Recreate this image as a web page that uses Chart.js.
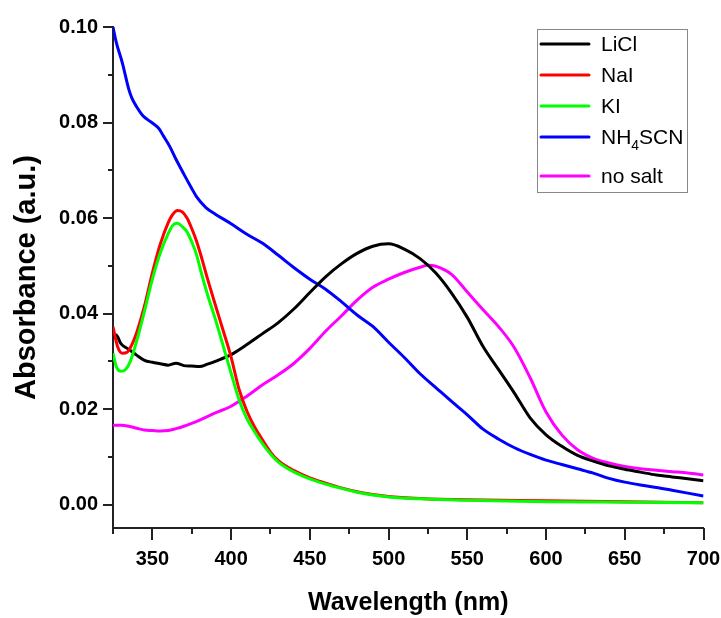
<!DOCTYPE html>
<html>
<head>
<meta charset="utf-8">
<script src="https://cdn.jsdelivr.net/npm/chart.js@4.4.1/dist/chart.umd.min.js"></script>
<style>
  html, body { margin: 0; padding: 0; background: #fff; }
</style>
</head>
<body>
<canvas id="MiGrafica" width="721" height="618"></canvas>
<script>
// Datos
const seriesNames = ["LiCl", "NaI", "KI", "NH4SCN", "no salt"];
const seriesColors = ["#000000", "#ff0000", "#00ff00", "#0000ff", "#ff00ff"];

const liclWl = [325,327,330,335,340,345,350,355,360,365,370,375,380,385,390,400,410,420,430,440,450,460,470,480,490,500,510,520,530,540,550,560,570,580,590,600,610,620,630,640,650,660,670,680,690,700];
const liclAbs = [0.0350,0.0355,0.0337,0.0325,0.0313,0.0302,0.0298,0.0295,0.0292,0.0296,0.0291,0.0290,0.0289,0.0294,0.0300,0.0314,0.0335,0.0358,0.0381,0.0410,0.0444,0.0477,0.0504,0.0526,0.0541,0.0546,0.0535,0.0515,0.0485,0.0443,0.0392,0.0331,0.0282,0.0233,0.0181,0.0146,0.0122,0.0103,0.0091,0.0081,0.0074,0.0068,0.0062,0.0058,0.0054,0.0050];

const naiWl = [325,328,331,334,337,340,345,350,355,360,363,366,369,372,375,378,381,385,390,395,400,405,410,415,420,425,430,440,450,460,470,480,490,500,520,550,600,650,700];
const naiAbs = [0.0372,0.0330,0.0317,0.0319,0.0335,0.0360,0.0416,0.0485,0.0545,0.0590,0.0608,0.0616,0.0613,0.0600,0.0578,0.0552,0.0520,0.0473,0.0418,0.0364,0.0309,0.0242,0.0196,0.0162,0.0135,0.0110,0.0092,0.0071,0.0056,0.0045,0.0035,0.0027,0.0021,0.0017,0.0013,0.0010,0.0008,0.0006,0.0004];

const kiWl = [325,327,330,333,336,340,345,350,355,360,363,366,369,372,375,378,381,385,390,395,400,405,410,415,420,425,430,440,450,460,470,480,490,500,520,550,600,650,700];
const kiAbs = [0.0317,0.0290,0.0279,0.0283,0.0300,0.0342,0.0405,0.0472,0.0527,0.0567,0.0585,0.0589,0.0582,0.0571,0.0550,0.0524,0.0486,0.0440,0.0388,0.0332,0.0275,0.0220,0.0180,0.0152,0.0127,0.0106,0.0089,0.0068,0.0054,0.0043,0.0034,0.0026,0.0020,0.0016,0.0012,0.0009,0.0006,0.0005,0.0004];

const scnWl = [325,327,331,335,337,340,344,347,350,354,357,361,365,370,375,378,384,390,400,410,420,430,440,450,460,470,480,490,500,510,520,530,540,550,560,570,580,590,600,610,620,630,640,650,660,670,680,690,700];
const scnAbs = [0.1000,0.0969,0.0924,0.0870,0.0851,0.0833,0.0814,0.0806,0.0799,0.0788,0.0772,0.0750,0.0723,0.0692,0.0662,0.0645,0.0622,0.0608,0.0588,0.0566,0.0547,0.0522,0.0496,0.0472,0.0451,0.0425,0.0397,0.0373,0.0340,0.0308,0.0274,0.0245,0.0216,0.0188,0.0158,0.0137,0.0119,0.0105,0.0093,0.0084,0.0075,0.0066,0.0055,0.0047,0.0041,0.0036,0.0030,0.0024,0.0018];

const noSaltWl = [325,330,335,340,345,350,355,360,365,370,380,390,400,410,420,430,440,450,460,470,480,490,500,510,520,525,530,540,550,560,570,580,590,600,610,620,630,640,650,660,670,680,690,700];
const noSaltAbs = [0.0166,0.0166,0.0164,0.0160,0.0156,0.0155,0.0154,0.0155,0.0159,0.0164,0.0177,0.0192,0.0206,0.0227,0.0251,0.0272,0.0296,0.0327,0.0363,0.0395,0.0428,0.0455,0.0472,0.0486,0.0497,0.0501,0.0499,0.0482,0.0445,0.0408,0.0372,0.0328,0.0265,0.0194,0.0146,0.0115,0.0097,0.0087,0.0080,0.0075,0.0072,0.0069,0.0066,0.0062];

const xTicks = [350, 400, 450, 500, 550, 600, 650, 700];
const xMinorTicks = [325, 375, 425, 475, 525, 575, 625, 675];
const yTicks = [0.00, 0.02, 0.04, 0.06, 0.08, 0.10];
const yMinorTicks = [0.01, 0.03, 0.05, 0.07, 0.09];

const allWl = [liclWl, naiWl, kiWl, scnWl, noSaltWl];
const allAbs = [liclAbs, naiAbs, kiAbs, scnAbs, noSaltAbs];
const drawOrder = [3, 2, 1, 4, 5];

const FONT = "'Liberation Sans', Arial, sans-serif";
const AXIS_COLOR = "#222";

// Marcas mayores y menores hacia fuera
const tickMarks = {
  id: 'tickMarks',
  afterDraw(chart) {
    const ctx = chart.ctx;
    const xs = chart.scales.x, ys = chart.scales.y;
    ctx.save();
    ctx.strokeStyle = AXIS_COLOR;
    ctx.lineWidth = 2;
    const xAxisY = chart.chartArea.bottom;
    const yAxisX = chart.chartArea.left;
    const xt = (v, len) => {
      const px = Math.round(xs.getPixelForValue(v));
      ctx.beginPath(); ctx.moveTo(px, xAxisY); ctx.lineTo(px, xAxisY + len); ctx.stroke();
    };
    const yt = (v, len) => {
      const py = Math.round(ys.getPixelForValue(v));
      ctx.beginPath(); ctx.moveTo(yAxisX, py); ctx.lineTo(yAxisX - len, py); ctx.stroke();
    };
    xTicks.forEach(v => xt(v, 12));
    xMinorTicks.forEach(v => xt(v, 6));
    yTicks.forEach(v => yt(v, 10));
    yMinorTicks.forEach(v => yt(v, 5));
    ctx.restore();
  }
};

// Leyenda con subindices
const boxLegend = {
  id: 'boxLegend',
  afterDraw(chart) {
    const ctx = chart.ctx;
    ctx.save();
    ctx.strokeStyle = "#888";
    ctx.lineWidth = 1;
    ctx.strokeRect(537.5, 29.5, 150, 163);
    let y = 44;
    seriesNames.forEach((name, i) => {
      ctx.strokeStyle = seriesColors[i];
      ctx.lineWidth = 3;
      ctx.lineCap = 'round';
      ctx.beginPath(); ctx.moveTo(541, y); ctx.lineTo(589, y); ctx.stroke();
      ctx.fillStyle = "#000";
      ctx.textBaseline = 'middle';
      let x = 601;
      const parts = name.match(/\d+|\D+/g);
      let hasSub = false;
      parts.forEach(p => {
        if (/^\d+$/.test(p)) {
          hasSub = true;
          ctx.font = "14px " + FONT;
          ctx.fillText(p, x, y + 9);
          x += ctx.measureText(p).width;
        } else {
          ctx.font = "21px " + FONT;
          ctx.fillText(p, x, y + 1);
          x += ctx.measureText(p).width;
        }
      });
      y += hasSub ? 39 : 31;
    });
    ctx.restore();
  }
};

const miCanvas = document.getElementById("MiGrafica").getContext("2d");

const chart = new Chart(miCanvas, {
  type: "line",
  data: {
    datasets: seriesNames.map((name, i) => ({
      label: name,
      data: allWl[i].map((w, j) => ({ x: w, y: allAbs[i][j] })),
      borderColor: seriesColors[i],
      backgroundColor: seriesColors[i],
      borderWidth: 3,
      pointRadius: 0,
      cubicInterpolationMode: 'monotone',
      fill: false,
      order: drawOrder[i]
    }))
  },
  options: {
    responsive: false,
    animation: false,
    events: [],
    layout: { padding: { top: 27, right: 0, left: 0, bottom: 0 } },
    plugins: {
      legend: { display: false },
      tooltip: { enabled: false }
    },
    scales: {
      x: {
        type: 'linear',
        min: 325,
        max: 700,
        afterFit: s => { s.height = 90; s.paddingLeft = 0; s.paddingRight = 17.5; },
        afterBuildTicks: s => { s.ticks = xTicks.map(v => ({ value: v })); },
        grid: { display: true, drawOnChartArea: false, drawTicks: false },
        border: { display: true, color: AXIS_COLOR, width: 2 },
        ticks: {
          padding: 19,
          color: "#000",
          maxRotation: 0,
          font: { family: FONT, size: 20, weight: 'bold' },
          callback: v => String(v)
        },
        title: {
          display: true,
          text: "Wavelength (nm)",
          color: "#000",
          font: { family: FONT, size: 25, weight: 'bold' },
          padding: { top: 0, bottom: 0 }
        }
      },
      y: {
        type: 'linear',
        min: -0.0049,
        max: 0.10,
        afterFit: s => { s.width = 113; },
        afterBuildTicks: s => { s.ticks = yTicks.map(v => ({ value: v })); },
        grid: { display: true, drawOnChartArea: false, drawTicks: false },
        border: { display: true, color: AXIS_COLOR, width: 2 },
        ticks: {
          padding: 15,
          color: "#000",
          font: { family: FONT, size: 20, weight: 'bold' },
          callback: v => v.toFixed(2)
        },
        title: {
          display: true,
          text: "Absorbance (a.u.)",
          color: "#000",
          font: { family: FONT, size: 29, weight: 'bold' },
          padding: { top: 10, bottom: 0 }
        }
      }
    }
  },
  plugins: [tickMarks, boxLegend]
});
</script>
</body>
</html>
